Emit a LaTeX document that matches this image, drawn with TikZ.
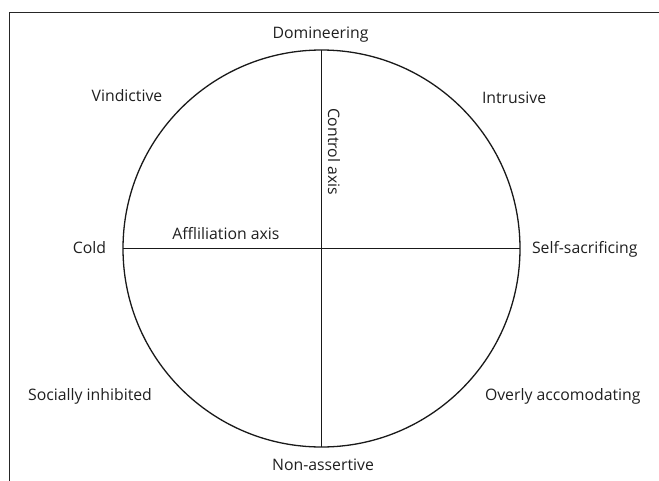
\documentclass[tikz,border=0pt]{standalone}
\usepackage{fontspec}
\setmainfont{Open Sans}
\begin{document}
\begin{tikzpicture}[x=1pt,y=-1pt,
  lbl/.style={inner sep=0pt,outer sep=0pt,text=black!88,font=\fontsize{15.8}{19}\selectfont},
  axisline/.style={draw=black!90,line width=1.3pt}]
\useasboundingbox (0,0) rectangle (659,480);
\draw[black!85,line width=1pt] (9,12) -- (670,12) (9,12) -- (9,490);
\coordinate (c) at (321.5,248.5);
\draw[axisline] (c) circle[radius=198.5pt];
\coordinate (t) at (321.5,50);
\coordinate (b) at (321.5,447);
\coordinate (l) at (123,248.5);
\coordinate (r) at (520,248.5);
\draw[axisline] (t) -- (b);
\draw[axisline] (l) -- (r);
\node[lbl,anchor=base] (dom) at (320.5,38) {Domineering};
\node[lbl,anchor=base] (vin) at (127,101) {Vindictive};
\node[lbl,anchor=base west] (int) at (482,103) {Intrusive};
\node[lbl,anchor=base] (cold) at (89.5,253) {Cold};
\node[lbl,anchor=base west] (self) at (532,253) {Self-sacrificing};
\node[lbl,anchor=base] (aff) at (226,239) {Affliliation axis};
\node[lbl,anchor=base] (soc) at (90,400) {Socially inhibited};
\node[lbl,anchor=base west] (ovr) at (485,400) {Overly accomodating};
\node[lbl,anchor=base] (non) at (323,470) {Non-assertive};
\node[lbl,anchor=base west,rotate=-90] (ctl) at (328,108) {Control axis};
\end{tikzpicture}
\end{document}
